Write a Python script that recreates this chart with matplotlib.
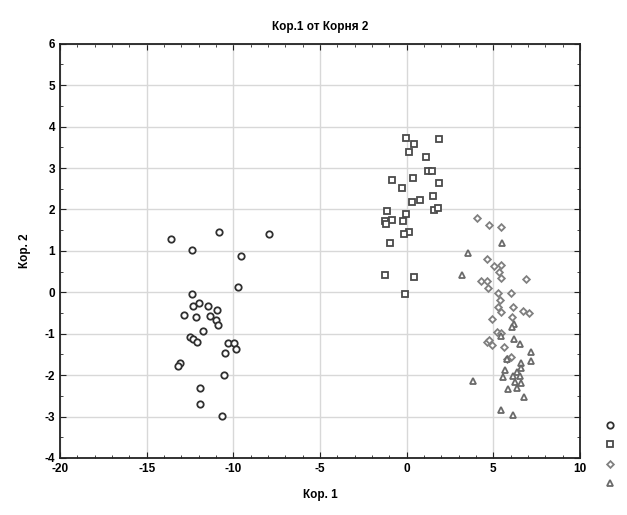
import numpy as np
import matplotlib
matplotlib.use("Agg")
import matplotlib.pyplot as plt
from matplotlib.lines import Line2D
from matplotlib.ticker import MultipleLocator

# group 1 (circles)
g1_x = [-13.6, -10.8, -7.96, -12.4, -9.54, -9.71, -12.4, -12.35, -12.0, -11.48,
        -10.96, -12.85, -12.17, -11.33, -11.0, -10.88, -11.73, -12.52, -12.35, -12.1,
        -10.29, -9.96, -9.87, -10.48, -13.08, -13.17, -10.56, -11.9, -11.9, -10.65]
g1_y = [1.29, 1.46, 1.40, 1.01, 0.87, 0.14, -0.05, -0.32, -0.26, -0.33,
        -0.43, -0.54, -0.60, -0.58, -0.67, -0.80, -0.94, -1.07, -1.13, -1.19,
        -1.22, -1.22, -1.36, -1.47, -1.71, -1.78, -2.0, -2.32, -2.70, -2.99]

# group 2 (squares)
g2_x = [-0.06, 0.44, 1.87, 0.15, 1.12, 1.23, 1.46, -0.85, 0.38, -0.25,
        1.88, 1.54, 0.77, 0.33, 1.60, 1.81, -1.15, -0.04, -1.27, -0.85,
        -1.21, -0.23, 0.12, -0.15, -0.94, -1.25, 0.44, -0.08]
g2_y = [3.72, 3.59, 3.69, 3.38, 3.27, 2.94, 2.94, 2.70, 2.77, 2.53,
        2.63, 2.32, 2.24, 2.17, 1.99, 2.03, 1.96, 1.90, 1.73, 1.75,
        1.65, 1.71, 1.46, 1.40, 1.19, 0.41, 0.37, -0.05]

# group 3 (diamonds)
g3_x = [4.06, 4.75, 5.42, 4.65, 5.06, 5.44, 5.31, 5.44, 6.87, 4.31,
        4.63, 4.67, 5.29, 6.0, 5.40, 5.27, 6.12, 5.44, 6.73, 7.06,
        4.90, 6.06, 5.19, 5.46, 4.62, 4.92, 5.60, 6.04, 5.79, 4.75]
g3_y = [1.79, 1.62, 1.58, 0.80, 0.64, 0.66, 0.50, 0.35, 0.31, 0.28,
        0.27, 0.10, -0.02, -0.01, -0.18, -0.36, -0.35, -0.47, -0.44, -0.51,
        -0.64, -0.60, -0.97, -0.98, -1.21, -1.28, -1.33, -1.57, -1.61, -1.15]

# group 4 (triangles)
g4_x = [5.5, 3.54, 3.21, 6.17, 5.44, 6.17, 6.52, 7.17, 7.15, 6.58,
        5.81, 6.62, 5.69, 6.35, 6.15, 6.52, 6.27, 6.62, 5.85, 6.35,
        3.81, 6.77, 5.42, 6.15, 5.54, 6.10]
g4_y = [1.19, 0.94, 0.41, -0.76, -1.05, -1.13, -1.26, -1.43, -1.65, -1.70,
        -1.62, -1.82, -1.88, -1.92, -2.03, -2.01, -2.16, -2.19, -2.34, -2.32,
        -2.14, -2.53, -2.83, -2.96, -2.05, -0.83]

plt.rcParams['font.family'] = ['Liberation Sans', 'DejaVu Sans']
plt.rcParams['axes.unicode_minus'] = False

fig = plt.figure(figsize=(6.27, 5.15), dpi=100)
ax = fig.add_axes([0.0957, 0.1107, 0.8293, 0.8043])

styles = [
    (g1_x, g1_y, 'o', '#303030', 4.6),
    (g2_x, g2_y, 's', '#4a4a4a', 4.3),
    (g3_x, g3_y, 'D', '#808080', 3.4),
    (g4_x, g4_y, '^', '#6a6a6a', 4.6),
]
handles = []
for xs, ys, m, c, s in styles:
    ax.plot(xs, ys, linestyle='none', marker=m, markersize=s,
            markerfacecolor='white', markeredgecolor=c, markeredgewidth=1.3)
    handles.append(Line2D([], [], linestyle='none', marker=m, markersize=s,
                          markerfacecolor='white', markeredgecolor=c,
                          markeredgewidth=1.3))

ax.set_xlim(-20, 10)
ax.set_ylim(-4, 6)
ax.xaxis.set_major_locator(MultipleLocator(5))
ax.xaxis.set_minor_locator(MultipleLocator(1))
ax.yaxis.set_major_locator(MultipleLocator(1))
ax.yaxis.set_minor_locator(MultipleLocator(0.5))
ax.tick_params(which='both', direction='in', top=True, right=True,
               labelsize=8.5, color='#222222')
ax.tick_params(which='major', length=4)
ax.tick_params(which='minor', length=2.5)
for lab in ax.get_xticklabels() + ax.get_yticklabels():
    lab.set_fontweight('bold')
ax.grid(True, which='major', color='#d8d8d8', linewidth=1.0)
ax.set_axisbelow(True)
for sp in ax.spines.values():
    sp.set_linewidth(1.3)
    sp.set_color('#222222')

ax.set_title('Кор.1 от Корня 2', fontsize=8.5, fontweight='bold', pad=10)
ax.set_xlabel('Кор. 1', fontsize=8.5, fontweight='bold', labelpad=10)
ax.set_ylabel('Кор. 2', fontsize=8.5, fontweight='bold', labelpad=10)

fig.legend(handles, ['', '', '', ''], loc='lower left',
           bbox_to_anchor=(0.955, 0.034), frameon=False,
           handlelength=0.6, handletextpad=0, labelspacing=0.37,
           borderpad=0)

fig.savefig('out.png', dpi=100, facecolor='white')
